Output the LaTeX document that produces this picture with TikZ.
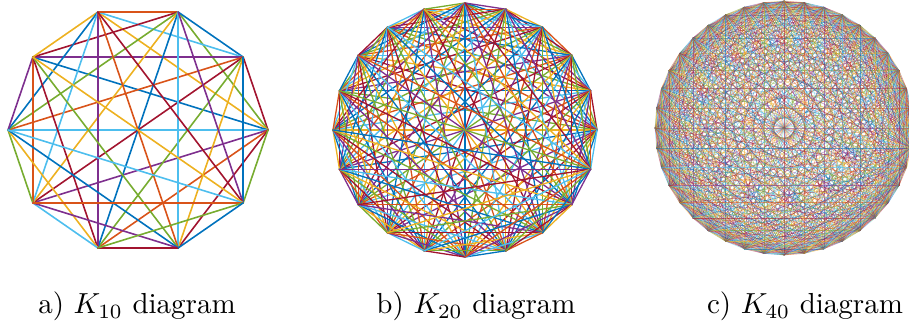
\documentclass[tikz,border=0pt]{standalone}
\usepackage{amsmath,amssymb}
\usepackage{tikz}
\usetikzlibrary{positioning,calc}
\definecolor{mline0}{RGB}{0,114,189}
\definecolor{mline1}{RGB}{217,83,25}
\definecolor{mline2}{RGB}{237,177,32}
\definecolor{mline3}{RGB}{126,47,142}
\definecolor{mline4}{RGB}{119,172,48}
\definecolor{mline5}{RGB}{77,190,238}
\definecolor{mline6}{RGB}{162,20,47}
\tikzset{
  kedge/.style={line width=#1,line cap=round},
  subcap/.style={anchor=base,font=\normalsize},
}

\begin{document}
\begin{tikzpicture}[x=0.345pt,y=0.345pt]
\useasboundingbox (0,0) rectangle (909,329);
% K10
\foreach \k in {1,...,10}
  \coordinate (a\k) at ({138+130*cos(36*(\k-1))},{199+124*sin(36*(\k-1))});
\foreach \i in {1,...,9}{
  \pgfmathtruncatemacro\jstart{\i+1}
  \foreach \j in {\jstart,...,10}{
    \pgfmathtruncatemacro\c{mod(3*\i+5*\j,7)}
    \draw[kedge=0.55pt,color=mline\c] (a\i) -- (a\j);
  }
}
% K20
\foreach \k in {1,...,20}
  \coordinate (b\k) at ({465+132*cos(18*(\k-1))},{199+127*sin(18*(\k-1))});
\foreach \i in {1,...,19}{
  \pgfmathtruncatemacro\jstart{\i+1}
  \foreach \j in {\jstart,...,20}{
    \pgfmathtruncatemacro\c{mod(3*\i+5*\j,7)}
    \draw[kedge=0.45pt,color=mline\c] (b\i) -- (b\j);
  }
}
% K40
\foreach \k in {1,...,40}
  \coordinate (c\k) at ({784+129*cos(9*(\k-1))},{201+127*sin(9*(\k-1))});
\foreach \i in {1,...,39}{
  \pgfmathtruncatemacro\jstart{\i+1}
  \foreach \j in {\jstart,...,40}{
    \pgfmathtruncatemacro\c{mod(3*\i+5*\j,7)}
    \draw[kedge=0.18pt,color=mline\c,opacity=0.55] (c\i) -- (c\j);
  }
}
\node[subcap] (capa) at (137,15) {a) $K_{10}$ diagram};
\node[subcap] (capb) at (476,15) {b) $K_{20}$ diagram};
\node[subcap] (capc) at (805,15) {c) $K_{40}$ diagram};
\end{tikzpicture}
\end{document}
